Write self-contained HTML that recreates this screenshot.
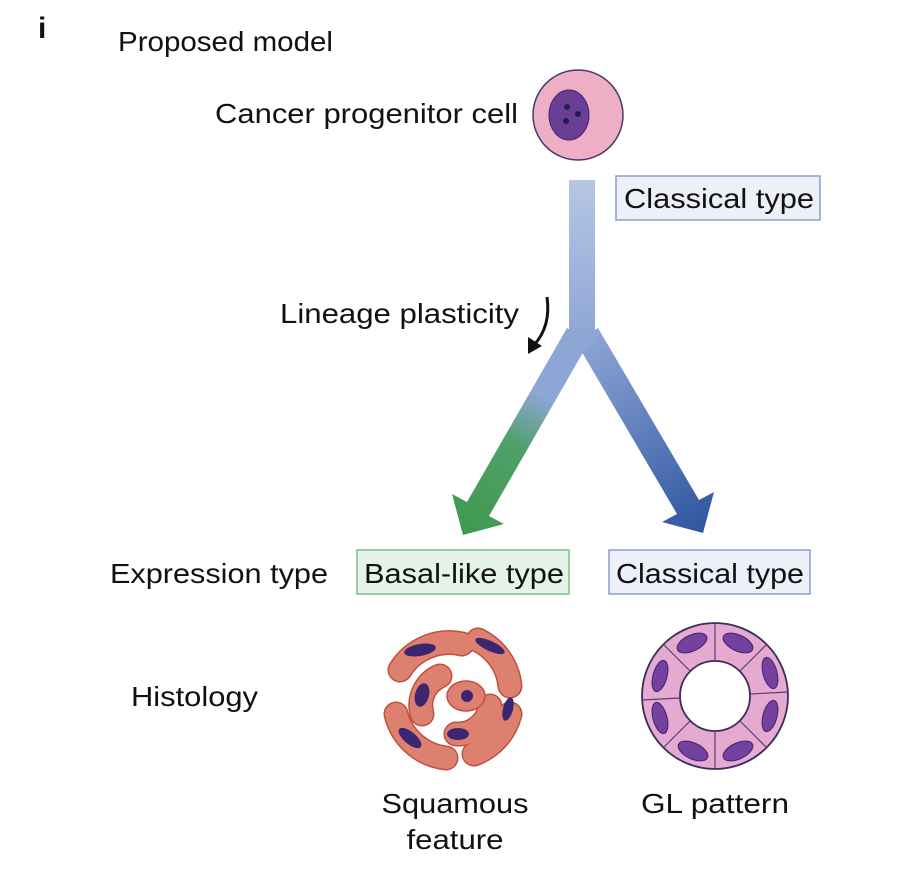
<!DOCTYPE html>
<html><head><meta charset="utf-8"><style>
html,body{margin:0;padding:0;background:#fff;}
svg{display:block;}
text{font-family:"Liberation Sans",Arial,sans-serif;fill:#111;}
</style></head><body>
<svg width="899" height="876" viewBox="0 0 899 876" xmlns="http://www.w3.org/2000/svg">
<defs>
<linearGradient id="stem" x1="0" y1="180" x2="0" y2="340" gradientUnits="userSpaceOnUse">
<stop offset="0" stop-color="#b6c6e4"/><stop offset="1" stop-color="#8ea6d6"/></linearGradient>
<linearGradient id="lg" x1="578" y1="335" x2="463" y2="535" gradientUnits="userSpaceOnUse">
<stop offset="0" stop-color="#8ea6d6"/><stop offset="0.3" stop-color="#8ea6d6"/><stop offset="0.55" stop-color="#4fa06a"/><stop offset="1" stop-color="#3f9a4f"/></linearGradient>
<linearGradient id="rg" x1="587" y1="335" x2="703" y2="533" gradientUnits="userSpaceOnUse">
<stop offset="0" stop-color="#8ea6d6"/><stop offset="1" stop-color="#2f55a0"/></linearGradient>
</defs>

<text x="38" y="38" font-size="30" font-weight="bold">i</text>
<text x="118" y="51" font-size="28" textLength="215" lengthAdjust="spacingAndGlyphs">Proposed model</text>
<text x="215" y="123" font-size="28" textLength="303" lengthAdjust="spacingAndGlyphs">Cancer progenitor cell</text>

<circle cx="578" cy="115" r="45" fill="#eeaec4" stroke="#4a3a6a" stroke-width="1.5"/>
<ellipse cx="569" cy="115" rx="20" ry="25" fill="#6a3d97" stroke="#3d2870" stroke-width="1"/>
<circle cx="567" cy="107" r="3" fill="#22204a"/>
<circle cx="578" cy="114" r="3" fill="#22204a"/>
<circle cx="566" cy="121" r="3" fill="#22204a"/>

<rect x="616" y="176" width="204" height="44" fill="#eef0f9" stroke="#8a9fd0" stroke-width="1.5"/>
<text x="624" y="208" font-size="28" textLength="190" lengthAdjust="spacingAndGlyphs">Classical type</text>

<polygon points="567,328 589,342 489,516 504,524 463,535 452,494 467,502" fill="url(#lg)"/>
<polygon points="598,328 576,342 677,514 662,522 703,533 714,492 699,500" fill="url(#rg)"/>
<rect x="569" y="180" width="26" height="160" fill="url(#stem)"/>
<polygon points="569,330 595,330 583,352" fill="#8ea6d6"/>

<text x="280" y="323" font-size="28" textLength="239" lengthAdjust="spacingAndGlyphs">Lineage plasticity</text>
<path d="M547,297 C550,318 545,333 534,345" fill="none" stroke="#111" stroke-width="3"/>
<polygon points="528,354 528,337 542,346" fill="#111"/>

<text x="110" y="583" font-size="28" textLength="218" lengthAdjust="spacingAndGlyphs">Expression type</text>
<rect x="357" y="550" width="212" height="44" fill="#e6f3e8" stroke="#7cbf8a" stroke-width="1.5"/>
<text x="364" y="583" font-size="28" textLength="200" lengthAdjust="spacingAndGlyphs">Basal-like type</text>
<rect x="609" y="550" width="201" height="44" fill="#eef0f9" stroke="#8a9fd0" stroke-width="1.5"/>
<text x="616" y="583" font-size="28" textLength="188" lengthAdjust="spacingAndGlyphs">Classical type</text>

<text x="131" y="706" font-size="28" textLength="127" lengthAdjust="spacingAndGlyphs">Histology</text>

<g stroke-linecap="round" fill="none">
<g stroke="#c0503e" stroke-width="25">
<path d="M400,670 A58,58 0 0 1 462,644"/>
<path d="M478,640 A58,58 0 0 1 510,686"/>
<path d="M510,714 A58,58 0 0 1 474,754"/>
<path d="M446,758 A58,58 0 0 1 396,714"/>
<path d="M422,714 A32,32 0 0 1 440,676"/>
<path d="M490,706 A32,32 0 0 1 456,734"/>
</g>
<g stroke="#de8070" stroke-width="22">
<path d="M400,670 A58,58 0 0 1 462,644"/>
<path d="M478,640 A58,58 0 0 1 510,686"/>
<path d="M510,714 A58,58 0 0 1 474,754"/>
<path d="M446,758 A58,58 0 0 1 396,714"/>
<path d="M422,714 A32,32 0 0 1 440,676"/>
<path d="M490,706 A32,32 0 0 1 456,734"/>
</g>
</g>
<ellipse cx="466" cy="696" rx="19" ry="15" fill="#de8070" stroke="#c0503e" stroke-width="1.5"/>
<g fill="#3e2570">
<circle cx="467" cy="696" r="6"/>
<ellipse cx="420" cy="650" rx="16" ry="6" transform="rotate(-10 420 650)"/>
<ellipse cx="490" cy="646" rx="16" ry="5" transform="rotate(25 490 646)"/>
<ellipse cx="422" cy="695" rx="7" ry="12" transform="rotate(15 422 695)"/>
<ellipse cx="508" cy="709" rx="5" ry="12" transform="rotate(15 508 709)"/>
<ellipse cx="458" cy="734" rx="11" ry="6"/>
<ellipse cx="410" cy="738" rx="14" ry="6" transform="rotate(40 410 738)"/>
</g>

<circle cx="715" cy="696" r="73" fill="#e6a9d0" stroke="#3a2d5e" stroke-width="1.8"/>
<circle cx="715" cy="696" r="35" fill="#fff" stroke="#3a2d5e" stroke-width="1.8"/>
<g stroke="#5a4070" stroke-width="1.2">
<line x1="715" y1="623" x2="715" y2="661"/>
<line x1="715" y1="731" x2="715" y2="769"/>
<line x1="642" y1="700" x2="680" y2="698"/>
<line x1="750" y1="694" x2="788" y2="692"/>
<line x1="663" y1="644" x2="690" y2="671"/>
<line x1="740" y1="721" x2="767" y2="748"/>
<line x1="767" y1="644" x2="740" y2="671"/>
<line x1="690" y1="721" x2="663" y2="748"/>
</g>
<g fill="#7342a0" stroke="#3e2570" stroke-width="1">
<ellipse cx="692" cy="643" rx="16" ry="8" transform="rotate(-25 692 643)"/>
<ellipse cx="738" cy="643" rx="16" ry="8" transform="rotate(25 738 643)"/>
<ellipse cx="660" cy="676" rx="7" ry="16" transform="rotate(15 660 676)"/>
<ellipse cx="770" cy="673" rx="7" ry="16" transform="rotate(-15 770 673)"/>
<ellipse cx="660" cy="718" rx="7" ry="16" transform="rotate(-15 660 718)"/>
<ellipse cx="770" cy="716" rx="7" ry="16" transform="rotate(15 770 716)"/>
<ellipse cx="693" cy="751" rx="16" ry="8" transform="rotate(25 693 751)"/>
<ellipse cx="738" cy="751" rx="16" ry="8" transform="rotate(-25 738 751)"/>
</g>

<text x="455" y="813" font-size="28" text-anchor="middle" textLength="147" lengthAdjust="spacingAndGlyphs">Squamous</text>
<text x="455" y="849" font-size="28" text-anchor="middle" textLength="97" lengthAdjust="spacingAndGlyphs">feature</text>
<text x="715" y="813" font-size="28" text-anchor="middle" textLength="148" lengthAdjust="spacingAndGlyphs">GL pattern</text>
</svg>
</body></html>
